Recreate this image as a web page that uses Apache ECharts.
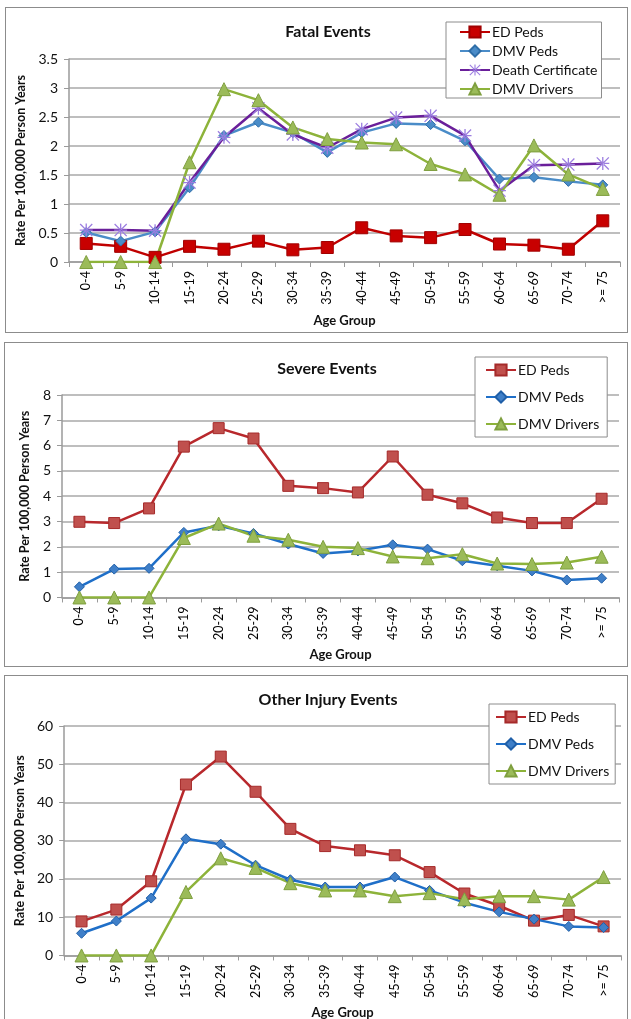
<!DOCTYPE html>
<html>
<head>
<meta charset="utf-8">
<script src="https://cdn.jsdelivr.net/npm/echarts@6/dist/echarts.min.js"></script>
<style>
  html, body { margin: 0; padding: 0; background: #fff; }
  body { width: 631px; height: 1019px; position: relative; overflow: hidden; }
  .panel { position: absolute; border: 1px solid #8c8c8c; box-sizing: border-box; background: #fff; }
</style>
</head>
<body>
<div id="fatal" class="panel" style="left:5px; top:7px; width:623px; height:326px;"></div>
<div id="severe" class="panel" style="left:4px; top:342px; width:624px; height:325px;"></div>
<div id="other" class="panel" style="left:4px; top:675px; width:624px; height:350px;"></div>
<script>
// Age groups shared by all three panels
const ageGroups = ['0-4','5-9','10-14','15-19','20-24','25-29','30-34','35-39','40-44','45-49','50-54','55-59','60-64','65-69','70-74','>= 75'];

// Fatal events (rate per 100,000 person years)
const fatalEdPeds     = [0.32, 0.27, 0.08, 0.27, 0.22, 0.36, 0.21, 0.25, 0.59, 0.45, 0.42, 0.56, 0.31, 0.29, 0.22, 0.71];
const fatalDmvPeds    = [0.51, 0.36, 0.52, 1.28, 2.18, 2.41, 2.23, 1.89, 2.23, 2.39, 2.37, 2.09, 1.43, 1.46, 1.39, 1.33];
const fatalDeathCert  = [0.55, 0.55, 0.54, 1.37, 2.15, 2.65, 2.20, 1.97, 2.29, 2.49, 2.52, 2.18, 1.23, 1.67, 1.68, 1.70];
const fatalDmvDrivers = [0, 0, 0, 1.72, 2.98, 2.79, 2.32, 2.12, 2.06, 2.03, 1.69, 1.51, 1.16, 2.01, 1.51, 1.26];

// Severe events
const severeEdPeds     = [2.99, 2.94, 3.52, 5.96, 6.69, 6.28, 4.41, 4.32, 4.15, 5.57, 4.06, 3.72, 3.16, 2.94, 2.94, 3.90];
const severeDmvPeds    = [0.42, 1.12, 1.15, 2.57, 2.83, 2.53, 2.11, 1.74, 1.84, 2.08, 1.91, 1.45, 1.25, 1.05, 0.69, 0.76];
const severeDmvDrivers = [0, 0, 0, 2.35, 2.92, 2.44, 2.28, 2.00, 1.95, 1.62, 1.55, 1.71, 1.34, 1.32, 1.38, 1.61];

// Other injury events
const otherEdPeds     = [8.9, 12.0, 19.4, 44.7, 52.0, 42.8, 33.1, 28.6, 27.5, 26.2, 21.8, 16.2, 13.0, 9.1, 10.6, 7.6];
const otherDmvPeds    = [5.8, 9.0, 15.0, 30.5, 29.1, 23.6, 19.8, 17.9, 17.9, 20.5, 17.0, 13.8, 11.4, 9.5, 7.6, 7.3];
const otherDmvDrivers = [0, 0, 0, 16.6, 25.4, 22.9, 18.9, 17.0, 17.0, 15.5, 16.3, 14.7, 15.5, 15.5, 14.6, 20.5];

const FONT = 'Lato, "Open Sans", sans-serif';
const ASTERISK = 'path://M9,0L11,0L11,20L9,20Z M0,9L20,9L20,11L0,11Z M1.4,0L0,1.4L18.6,20L20,18.6Z M18.6,0L20,1.4L1.4,20L0,18.6Z';

function lineSeries(name, data, lineColor, symbol, size, fill, border) {
  return {
    name: name, type: 'line', data: data,
    symbol: symbol, symbolSize: size, showSymbol: true,
    lineStyle: { color: lineColor, width: 2.5 },
    itemStyle: { color: fill, borderColor: border || fill, borderWidth: border ? 1 : 0 },
    emphasis: { disabled: true },
    animation: false
  };
}

function buildChart(el, cfg) {
  const chart = echarts.init(document.getElementById(el), null, { renderer: 'canvas' });
  chart.setOption({
    animation: false,
    backgroundColor: '#fff',
    title: {
      text: cfg.title, left: cfg.titleX, top: cfg.titleY, textAlign: 'center',
      textStyle: { fontFamily: FONT, fontSize: 16, fontWeight: 'bold', color: '#111' }
    },
    legend: {
      orient: 'vertical', left: cfg.legend.left, top: cfg.legend.top,
      itemWidth: 30, itemHeight: 14, itemGap: cfg.legend.gap,
      padding: cfg.legend.padding,
      backgroundColor: '#fff', borderColor: '#8c8c8c', borderWidth: 1,
      textStyle: { fontFamily: FONT, fontSize: 14, lineHeight: 14, color: '#111', padding: [0, 0, 0, -3] },
      data: cfg.series.map(s => s.name)
    },
    grid: { left: cfg.grid.left, top: cfg.grid.top, width: cfg.grid.width, height: cfg.grid.height },
    xAxis: {
      type: 'category', data: ageGroups, boundaryGap: true,
      name: 'Age Group', nameLocation: 'middle', nameGap: cfg.xNameGap,
      nameTextStyle: { fontFamily: FONT, fontSize: 13, fontWeight: 'bold', color: '#111' },
      axisLine: { lineStyle: { color: '#9a9a9a', width: 1.5 } },
      axisTick: { show: true, length: 5, lineStyle: { color: '#9a9a9a' } },
      axisLabel: { rotate: 90, margin: 9, fontFamily: FONT, fontSize: 12.5, color: '#000' }
    },
    yAxis: {
      type: 'value', min: 0, max: cfg.yMax, interval: cfg.yStep,
      name: 'Rate Per 100,000 Person Years', nameLocation: 'middle', nameRotate: 90, nameGap: cfg.yNameGap,
      nameTextStyle: { fontFamily: FONT, fontSize: 12.5, fontWeight: 'bold', color: '#111' },
      axisLine: { show: true, lineStyle: { color: '#9a9a9a', width: 1.5 } },
      axisTick: { show: true, length: 5, lineStyle: { color: '#9a9a9a' } },
      axisLabel: { margin: 11, fontFamily: FONT, fontSize: 14, color: '#111' },
      splitLine: { lineStyle: { color: '#a8a8a8', width: 1.5 } }
    },
    series: cfg.series
  });
}

buildChart('fatal', {
  title: 'Fatal Events', titleX: 317, titleY: 11,
  grid: { left: 63, top: 51, width: 551, height: 203 },
  yMax: 3.5, yStep: 0.5, xNameGap: 52, yNameGap: 34,
  legend: { left: 440, top: 14, gap: 5, padding: [3, 4, 2, 13] },
  series: [
    lineSeries('ED Peds', fatalEdPeds, '#c00000', 'rect', 12, '#c80000', '#a00000'),
    lineSeries('DMV Peds', fatalDmvPeds, '#4a8cc8', 'diamond', 10, '#4a8cc8', '#2f6ea8'),
    lineSeries('Death Certificate', fatalDeathCert, '#6a1f9a', ASTERISK, 13, '#9c7ee0'),
    lineSeries('DMV Drivers', fatalDmvDrivers, '#8db33a', 'triangle', 13, '#9bbb59', '#7f9f3f')
  ]
});

buildChart('severe', {
  title: 'Severe Events', titleX: 317, titleY: 13,
  grid: { left: 57, top: 52, width: 557, height: 203 },
  yMax: 8, yStep: 1, xNameGap: 50, yNameGap: 31,
  legend: { left: 470, top: 14, gap: 13, padding: [6, 8, 6, 10] },
  series: [
    lineSeries('ED Peds', severeEdPeds, '#b8282c', 'rect', 11, '#c0504d', '#a52a2a'),
    lineSeries('DMV Peds', severeDmvPeds, '#1f6fc8', 'diamond', 10, '#3f7fc8', '#1f5fa8'),
    lineSeries('DMV Drivers', severeDmvDrivers, '#8db33a', 'triangle', 13, '#9bbb59', '#7f9f3f')
  ]
});

buildChart('other', {
  title: 'Other Injury Events', titleX: 318, titleY: 11,
  grid: { left: 56, top: 50, width: 560, height: 233 },
  yMax: 60, yStep: 10, xNameGap: 50, yNameGap: 32,
  legend: { left: 484, top: 28, gap: 13, padding: [6, 6, 6, 6] },
  series: [
    lineSeries('ED Peds', otherEdPeds, '#b8282c', 'rect', 11, '#c0504d', '#a52a2a'),
    lineSeries('DMV Peds', otherDmvPeds, '#1f6fc8', 'diamond', 10, '#3f7fc8', '#1f5fa8'),
    lineSeries('DMV Drivers', otherDmvDrivers, '#8db33a', 'triangle', 13, '#9bbb59', '#7f9f3f')
  ]
});
</script>
</body>
</html>
